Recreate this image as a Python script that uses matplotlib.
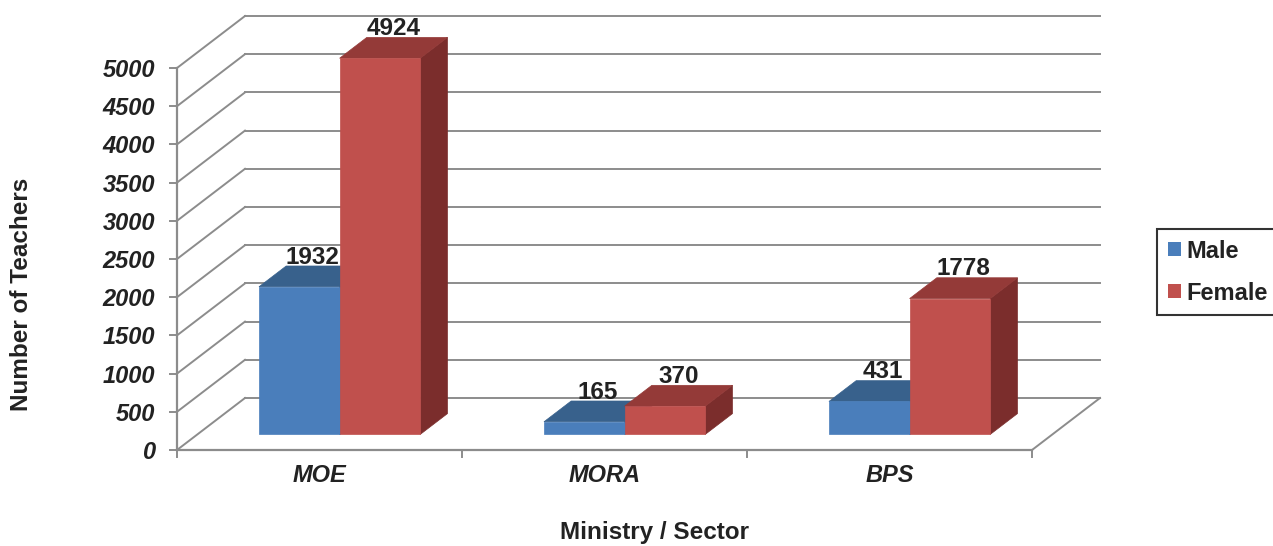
import matplotlib
matplotlib.use("Agg")
import matplotlib.pyplot as plt
from matplotlib.patches import Polygon, Patch

categories = ["MOE", "MORA", "BPS"]
male = [1932, 165, 431]
female = [4924, 370, 1778]
y_ticks = [0, 500, 1000, 1500, 2000, 2500, 3000, 3500, 4000, 4500, 5000]

plt.rcParams["font.family"] = ["Liberation Sans", "DejaVu Sans"]
plt.rcParams["font.weight"] = "bold"

W, H = 1273, 546
fig = plt.figure(figsize=(W / 100, H / 100), dpi=100)
ax = fig.add_axes([0, 0, 1, 1])
ax.axis("off")

# pixel scale of the fake 3d frame
px_cat = 285.0
px_val = 382.0 / 5000
x0_px, y0_px = 177, 450
ax.set_xlim(-x0_px / px_cat, (W - x0_px) / px_cat)
ax.set_ylim(-(H - y0_px) / px_val, y0_px / px_val)

DX = 68 / px_cat
DY = 52 / px_val
F0, F1 = 0.30, 0.70
grid_c = "#8c8c8c"
text_c = "#222222"
n = len(categories)

# back wall and left wall
for v in y_ticks:
    ax.plot([DX, n + DX], [v + DY, v + DY], color=grid_c, lw=1.4, zorder=1)
    ax.plot([0, DX], [v, v + DY], color=grid_c, lw=1.4, zorder=1)
    ax.plot([-7 / px_cat, 0], [v, v], color=grid_c, lw=1.4, zorder=1)
    ax.text(-22 / px_cat, v, str(v), ha="right", va="center_baseline",
            fontsize=17, style="italic", color=text_c)

# floor
ax.plot([0, n], [0, 0], color=grid_c, lw=1.6, zorder=1)
ax.plot([n, n + DX], [0, DY], color=grid_c, lw=1.4, zorder=1)
ax.plot([0, 0], [0, 5000], color=grid_c, lw=1.6, zorder=1)
for i in range(n + 1):
    ax.plot([i, i], [0, -7 / px_val], color=grid_c, lw=1.4, zorder=1)


def bar3d(x, w, h, front, top, side):
    ox0, oy0 = F0 * DX, F0 * DY
    ox1, oy1 = F1 * DX, F1 * DY
    pts_front = [(x + ox0, oy0), (x + w + ox0, oy0), (x + w + ox0, h + oy0), (x + ox0, h + oy0)]
    pts_top = [(x + ox0, h + oy0), (x + w + ox0, h + oy0), (x + w + ox1, h + oy1), (x + ox1, h + oy1)]
    pts_side = [(x + w + ox0, oy0), (x + w + ox1, oy1), (x + w + ox1, h + oy1), (x + w + ox0, h + oy0)]
    for pts, c in [(pts_side, side), (pts_top, top), (pts_front, front)]:
        ax.add_patch(Polygon(pts, closed=True, facecolor=c, edgecolor=c, lw=0.5, zorder=2))
    ax.text(x + w / 2 + (ox0 + ox1) / 2, h + oy1 + 30, str(h), ha="center", va="baseline",
            fontsize=17.5, color=text_c, zorder=3)


bw = 0.283
start = 0.216
blue = ("#4a7ebb", "#38618c", "#2f5077")
red = ("#c0504d", "#943a38", "#7b2d2c")
for i in range(n):
    bar3d(i + start, bw, male[i], *blue)
    bar3d(i + start + bw, bw, female[i], *red)
    ax.text(i + 0.5, -334, categories[i], ha="center", va="center",
            fontsize=17, style="italic", color=text_c)

fig.text(22 / W, 1 - 294 / H, "Number of Teachers", rotation=90, ha="center", va="center",
         fontsize=17.5, color=text_c)
fig.text(655 / W, 1 - 533 / H, "Ministry / Sector", ha="center", va="center",
         fontsize=17.5, color=text_c)

handles = [Patch(facecolor=blue[0], label="Male"), Patch(facecolor=red[0], label="Female")]
leg = fig.legend(handles=handles, loc="upper left", bbox_to_anchor=(1157 / W, 1 - 229 / H),
                 fontsize=17, frameon=True, fancybox=False, handlelength=0.55, handleheight=0.55,
                 handletextpad=0.25, borderpad=0.45, labelspacing=0.8, borderaxespad=0)
leg.get_frame().set_edgecolor("black")
leg.get_frame().set_linewidth(1.5)
for t in leg.get_texts():
    t.set_color(text_c)

fig.savefig("out.png", dpi=100)
